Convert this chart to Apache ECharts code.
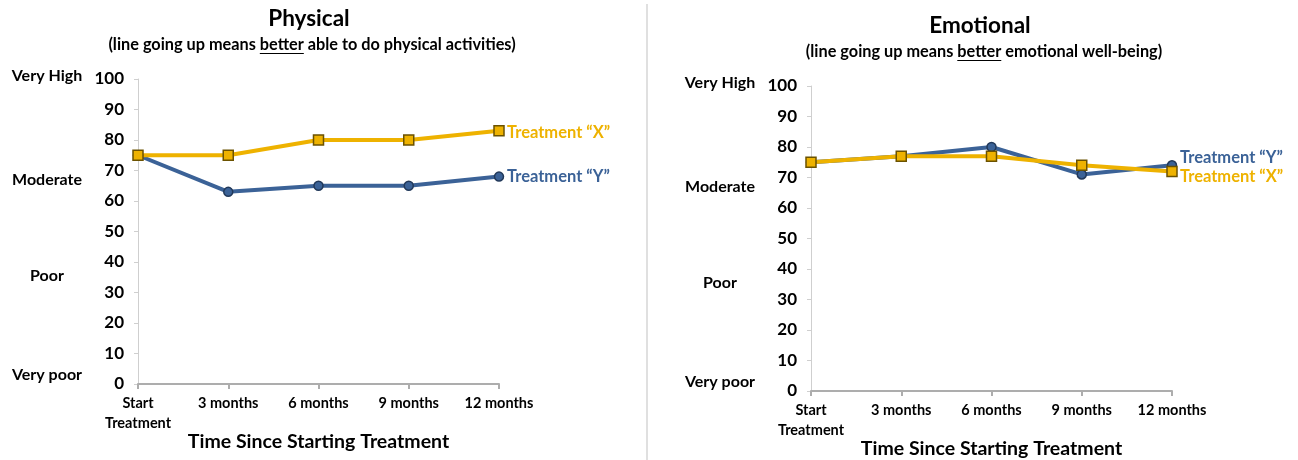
<!DOCTYPE html>
<html>
<head>
<meta charset="utf-8">
<script src="https://cdn.jsdelivr.net/npm/echarts@6/dist/echarts.min.js"></script>
<style>
  html, body { margin: 0; padding: 0; background: #fff; }
  #main { width: 1298px; height: 460px; }
</style>
</head>
<body>
<div id="main"></div>
<script>
// values
const timePoints = ['Start\nTreatment', '3 months', '6 months', '9 months', '12 months']
const physicalX = [75, 75, 80, 80, 83]
const physicalY = [75, 63, 65, 65, 68]
const emotionalX = [75, 77, 77, 74, 72]
const emotionalY = [75, 77, 80, 71, 74]
const ratingLabels = ['Very High', 'Moderate', 'Poor', 'Very poor']
const ratingLevels = [101, 67, 35.5, 3]

const FONT = 'Lato'
const YELLOW = '#EEB200'
const BLUE = '#3B6297'

const chartDom = document.getElementById('main')
const myChart = echarts.init(chartDom, null, { renderer: 'canvas' })

const panels = [
  {
    title: 'Physical',
    pre: '(line going up means ',
    word: 'better',
    post: ' able to do physical activities)',
    titleX: 309, titleY: 19, subY: 45, subX: 312,
    ratingX: 47,
    grid: { left: 138, top: 79, width: 361, height: 305, outerBoundsMode: 'none' },
    xOff: [0, 2], yOff: [0, 0],
  },
  {
    title: 'Emotional',
    pre: '(line going up means ',
    word: 'better',
    post: ' emotional well-being)',
    titleX: 980, titleY: 26, subY: 52, subX: 984,
    ratingX: 720,
    grid: { left: 811, top: 86, width: 361, height: 305, outerBoundsMode: 'none' },
    xOff: [0, 5], yOff: [0, -8],
  },
]

function xAxisFor(i) {
  return {
    type: 'category',
    gridIndex: i,
    data: timePoints,
    boundaryGap: false,
    name: 'Time Since Starting Treatment',
    nameLocation: 'middle',
    nameGap: 48,
    nameMoveOverlap: false,
    nameTextStyle: { fontFamily: FONT, fontWeight: 'bold', fontSize: 19.5, color: '#000' },
    axisLine: { lineStyle: { color: '#ADADAD', width: 2 } },
    axisTick: { show: true, alignWithLabel: true, length: 5, lineStyle: { color: '#ADADAD', width: 2 } },
    axisLabel: {
      interval: 0,
      margin: 9,
      fontFamily: FONT,
      fontWeight: 'bold',
      fontSize: 14.5,
      lineHeight: 20,
      color: '#000',
    },
    splitLine: { show: false },
  }
}

function yAxisFor(i) {
  return {
    type: 'value',
    gridIndex: i,
    min: 0,
    max: 100,
    interval: 10,
    axisLine: { show: true, lineStyle: { color: '#CFCFCF', width: 1 } },
    axisTick: { show: true, length: 4, lineStyle: { color: '#CFCFCF' } },
    axisLabel: { margin: 14, fontFamily: FONT, fontWeight: 'bold', fontSize: 17, color: '#000' },
    splitLine: { show: false },
  }
}

function lineSeries(name, data, i, color, border, symbol, size, off) {
  return {
    name: name,
    type: 'line',
    xAxisIndex: i,
    yAxisIndex: i,
    data: data,
    symbol: symbol,
    symbolSize: size,
    lineStyle: { color: color, width: 4 },
    itemStyle: { color: color, borderColor: border, borderWidth: 1.5 },
    endLabel: {
      show: true,
      formatter: name,
      color: color,
      fontFamily: FONT,
      fontWeight: 'bold',
      fontSize: 16.5,
      distance: 8,
      offset: off,
    },
  }
}

let option = {
  backgroundColor: '#fff',
  animation: false,
  grid: panels.map(p => p.grid),
  xAxis: [xAxisFor(0), xAxisFor(1)],
  yAxis: [yAxisFor(0), yAxisFor(1)],
  series: [
    lineSeries('Treatment “Y”', physicalY, 0, BLUE, '#22395A', 'circle', 9, panels[0].yOff),
    lineSeries('Treatment “X”', physicalX, 0, YELLOW, '#6B5200', 'rect', 10, panels[0].xOff),
    lineSeries('Treatment “Y”', emotionalY, 1, BLUE, '#22395A', 'circle', 9, panels[1].yOff),
    lineSeries('Treatment “X”', emotionalX, 1, YELLOW, '#6B5200', 'rect', 10, panels[1].xOff),
  ],
}
myChart.setOption(option)

// titles, underlined word, rating words and the divider
const SUB_SIZE = 16.3
const ctx = document.createElement('canvas').getContext('2d')
ctx.font = 'bold ' + SUB_SIZE + 'px ' + FONT
const graphics = [
  {
    type: 'line',
    shape: { x1: 647, y1: 4, x2: 647, y2: 460 },
    style: { stroke: '#D6D6D6', lineWidth: 1.5 },
  },
]
panels.forEach((p, i) => {
  const full = p.pre + p.word + p.post
  const w = ctx.measureText(full).width
  const x0 = p.subX - w / 2 + ctx.measureText(p.pre).width
  const ww = ctx.measureText(p.word).width
  graphics.push(
    {
      type: 'text',
      x: p.titleX, y: p.titleY,
      style: { text: p.title, fontFamily: FONT, fontWeight: 'bold', fontSize: 22.5, fill: '#000', textAlign: 'center', textVerticalAlign: 'middle' },
    },
    {
      type: 'text',
      x: p.subX, y: p.subY,
      style: { text: full, fontFamily: FONT, fontWeight: 'bold', fontSize: SUB_SIZE, fill: '#000', textAlign: 'center', textVerticalAlign: 'middle' },
    },
    {
      type: 'line',
      shape: { x1: x0, y1: p.subY + 8.5, x2: x0 + ww, y2: p.subY + 8.5 },
      style: { stroke: '#000', lineWidth: 1 },
    }
  )
  ratingLabels.forEach((t, k) => {
    const py = myChart.convertToPixel({ yAxisIndex: i }, ratingLevels[k])
    graphics.push({
      type: 'text',
      x: p.ratingX, y: py,
      style: { text: t, fontFamily: FONT, fontWeight: 'bold', fontSize: 16, fill: '#000', textAlign: 'center', textVerticalAlign: 'middle' },
    })
  })
})
myChart.setOption({ graphic: graphics })

window.onresize = function () {
  myChart.resize()
}
</script>
</body>
</html>
